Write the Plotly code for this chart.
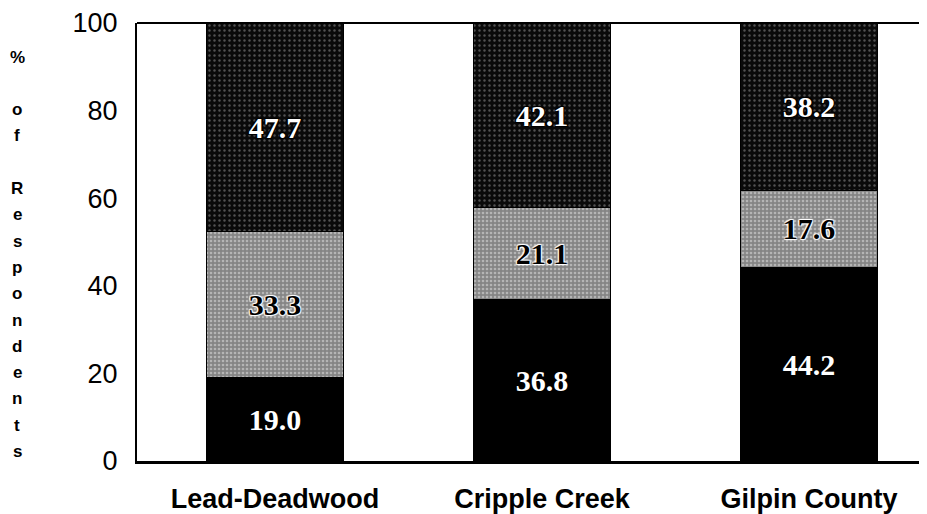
import plotly.graph_objects as go

categories = ["Lead-Deadwood", "Cripple Creek", "Gilpin County"]
bottom_vals = [19.0, 36.8, 44.2]
middle_vals = [33.3, 21.1, 17.6]
top_vals = [47.7, 42.1, 38.2]
y_ticks = [0, 20, 40, 60, 80, 100]
y_title = "% of Respondents"

fig = go.Figure()

def add_seg(vals, base_color, pattern, font_color, shadow):
    fig.add_trace(go.Bar(
        x=categories, y=vals,
        text=[f"{v:.1f}" for v in vals],
        textposition="inside", insidetextanchor="middle",
        textfont=dict(family="Liberation Serif", size=30, color=font_color,
                      weight="bold", shadow=shadow),
        marker=dict(color=base_color, line=dict(color="black", width=1),
                    pattern=pattern),
        width=0.51, showlegend=False, cliponaxis=False,
    ))

add_seg(bottom_vals, "black", None, "white", "none")
add_seg(middle_vals, "#9a9a9a",
        dict(shape=".", bgcolor="#858585", fgcolor="#e6e6e6", size=4, solidity=0.35),
        "black", "1px 1px 1px white, -1px -1px 1px white, 1px -1px 1px white, -1px 1px 1px white")
add_seg(top_vals, "#111111",
        dict(shape=".", bgcolor="#0a0a0a", fgcolor="#9a9a9a", size=5, solidity=0.18),
        "white", "1px 1px 1px black, -1px -1px 1px black, 1px -1px 1px black, -1px 1px 1px black")

fig.update_layout(
    barmode="stack",
    width=927, height=514,
    margin=dict(l=129, r=0, t=13, b=61),
    paper_bgcolor="white", plot_bgcolor="white",
    xaxis=dict(
        range=[-0.517, 2.472],
        showline=True, linecolor="black", linewidth=3, mirror=False,
        showgrid=False, ticks="", ticklabelstandoff=12,
        tickfont=dict(family="Liberation Sans", size=27, color="black", weight="bold"),
    ),
    yaxis=dict(
        range=[0, 100], tickvals=y_ticks,
        showline=True, linecolor="black", linewidth=2,
        showgrid=False, ticks="", ticklabelstandoff=12,
        ticklabeloverflow="allow",
        tickfont=dict(family="Liberation Sans", size=27, color="black"),
        zeroline=False,
    ),
    shapes=[dict(type="line", xref="paper", yref="paper", x0=0, x1=1, y0=1, y1=1,
                 line=dict(color="black", width=2))],
)

# Vertical stacked y-axis title: "%", gap, "o","f", gap, "Respondents"
lines = ["%", "", "o", "f", ""] + list("Respondents")
for i, ch in enumerate(lines):
    if not ch:
        continue
    fig.add_annotation(
        text=ch, xref="paper", yref="paper", x=0, y=1, xanchor="center", yanchor="middle",
        xshift=-120, yshift=-(34 + 26.3 * i), showarrow=False,
        font=dict(family="Liberation Sans", size=17, color="black", weight="bold"),
    )

fig.write_html("out.html")
